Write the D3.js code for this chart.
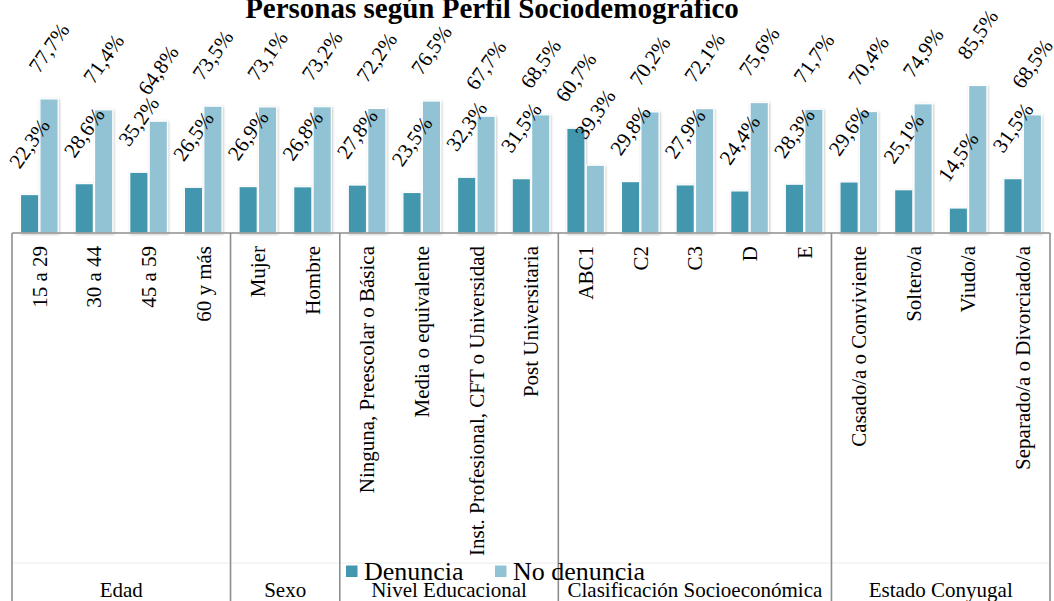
<!DOCTYPE html>
<html>
<head>
<meta charset="utf-8">
<script src="https://cdn.jsdelivr.net/npm/d3@7"></script>
<style>
  html, body { margin: 0; padding: 0; background: #fff; }
  svg { display: block; font-family: "Liberation Serif", "Times New Roman", serif; }
</style>
</head>
<body>
<svg id="chart" width="1054" height="601"></svg>
<script>
const groups = ["Edad", "Sexo", "Nivel Educacional", "Clasificación Socioeconómica", "Estado Conyugal"];
const groupSizes = [4, 2, 4, 5, 4];
const categories = [
  "15 a 29", "30 a 44", "45 a 59", "60 y más",
  "Mujer", "Hombre",
  "Ninguna, Preescolar o Básica", "Media o equivalente", "Inst. Profesional, CFT o Universidad", "Post Universitaria",
  "ABC1", "C2", "C3", "D", "E",
  "Casado/a o Conviviente", "Soltero/a", "Viudo/a", "Separado/a o Divorciado/a"
];
const denuncia   = [22.3, 28.6, 35.2, 26.5, 26.9, 26.8, 27.8, 23.5, 32.3, 31.5, 60.7, 29.8, 27.9, 24.4, 28.3, 29.6, 25.1, 14.5, 31.5];
const noDenuncia = [77.7, 71.4, 64.8, 73.5, 73.1, 73.2, 72.2, 76.5, 67.7, 68.5, 39.3, 70.2, 72.1, 75.6, 71.7, 70.4, 74.9, 85.5, 68.5];
const seriesNames = ["Denuncia", "No denuncia"];
const seriesColors = ["#4397AF", "#92C3D5"];
const yTicks = [10, 20, 30, 40, 50, 60, 70, 80, 90];

const svg = d3.select("#chart");
const left = 12, right = 1050, axisY = 233, topY = 77.7;

const x = d3.scaleBand().domain(categories).range([left, right]).padding(0);
const cw = x.bandwidth();
const xs = d3.scaleBand().domain(seriesNames).range([cw * 0.155, cw * 0.845]).paddingInner(0.06);
const y = d3.scaleLinear().domain([0, 90]).range([axisY, topY]);

const defs = svg.append("defs");
const f = defs.append("filter").attr("id", "sh").attr("x", "-20%").attr("y", "-20%").attr("width", "140%").attr("height", "140%");
f.append("feDropShadow").attr("dx", 0.8).attr("dy", 0.8).attr("stdDeviation", 1).attr("flood-color", "#000").attr("flood-opacity", 0.25);

// Title
svg.append("text").attr("x", 492).attr("y", 17.5).attr("text-anchor", "middle")
  .attr("font-weight", "bold").attr("font-size", 29).text("Personas según Perfil Sociodemográfico");

// Gridlines
svg.append("g").selectAll("line").data(yTicks).join("line")
  .attr("x1", left).attr("x2", right)
  .attr("y1", d => y(d)).attr("y2", d => y(d))
  .attr("stroke", "#8e8e8e").attr("stroke-width", 1.6).attr("filter", "url(#sh)");

// Bars
const rows = categories.map((c, i) => ({ c, vals: [denuncia[i], noDenuncia[i]] }));
const bars = svg.append("g").selectAll("g").data(rows).join("g")
  .attr("transform", d => `translate(${x(d.c)},0)`);
bars.selectAll("rect").data(d => d.vals.map((v, j) => ({ v, s: seriesNames[j], j }))).join("rect")
  .attr("x", d => xs(d.s)).attr("width", xs.bandwidth())
  .attr("y", d => y(d.v)).attr("height", d => y(0) - y(d.v))
  .attr("fill", d => seriesColors[d.j]).attr("stroke", "#fff").attr("stroke-width", 1.2)
  .attr("filter", "url(#sh)");

// Value labels
const fmt = v => v.toFixed(1).replace(".", ",") + "%";
bars.selectAll("text").data(d => d.vals.map((v, j) => ({ v, s: seriesNames[j], j }))).join("text")
  .attr("transform", d => `translate(${xs(d.s) + xs.bandwidth() / 2},${y(d.v) - 51}) rotate(-55)`)
  .attr("text-anchor", "middle").attr("dominant-baseline", "central")
  .attr("font-size", 21).attr("fill", "#000").text(d => fmt(d.v));

// Axis line
svg.append("line").attr("x1", left).attr("x2", right).attr("y1", axisY).attr("y2", axisY)
  .attr("stroke", "#8e8e8e").attr("stroke-width", 1.6);

// Faint level separator
svg.append("line").attr("x1", left).attr("x2", right).attr("y1", 563).attr("y2", 563)
  .attr("stroke", "#ececec").attr("stroke-width", 1);

// Group separators and labels
let idx = 0;
const bounds = [left];
groupSizes.forEach(n => { idx += n; bounds.push(x(categories[idx - 1]) + cw); });
svg.append("g").selectAll("line").data(bounds).join("line")
  .attr("x1", d => d).attr("x2", d => d).attr("y1", axisY).attr("y2", 601)
  .attr("stroke", "#8e8e8e").attr("stroke-width", 1.6);
svg.append("g").selectAll("text").data(groups).join("text")
  .attr("x", (d, i) => (bounds[i] + bounds[i + 1]) / 2).attr("y", 597)
  .attr("text-anchor", "middle").attr("font-size", 21).text(d => d);

// Category labels
svg.append("g").selectAll("text").data(categories).join("text")
  .attr("transform", d => `translate(${x(d) + cw / 2},246) rotate(-90)`)
  .attr("text-anchor", "end").attr("dy", "0.35em").attr("font-size", 21).text(d => d);

// Legend
const legX = [346, 495];
const leg = svg.append("g");
seriesNames.forEach((s, i) => {
  leg.append("rect").attr("x", legX[i]).attr("y", 565.5).attr("width", 11.5).attr("height", 11.5).attr("fill", seriesColors[i]);
  leg.append("text").attr("x", legX[i] + 18).attr("y", 580).attr("font-size", 26).text(s);
});
</script>
</body>
</html>
